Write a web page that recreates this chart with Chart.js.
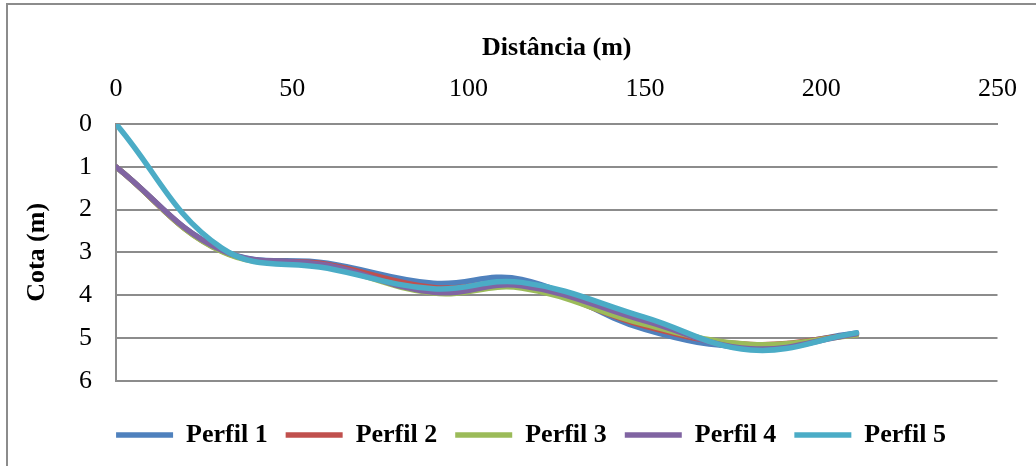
<!DOCTYPE html>
<html lang="pt">
  <head>
    <meta charset="UTF-8" />
    <title>Perfis</title>
    <script src="https://cdn.jsdelivr.net/npm/chart.js"></script>
    <style>
      html, body { margin: 0; padding: 0; background: #fff; overflow: hidden; }
      #wrap { position: relative; width: 1036px; height: 466px; }
      #frame { position: absolute; left: 6px; top: 3px; width: 1100px; height: 520px; border: 2px solid #8c8c8c; box-sizing: border-box; }
      canvas { position: absolute; left: 0; top: 0; }
    </style>
  </head>
  <body>
    <div id="wrap">
      <div id="frame"></div>
      <canvas id="perfis" width="1036" height="466"></canvas>
    </div>

    <script>
      // distancias (m) e cotas (m) de cada perfil
      const distancia = [0, 30, 60, 90, 115, 150, 180, 210];
      const perfil1 = [1.0, 2.95, 3.25, 3.72, 3.63, 4.8, 5.2, 4.88];
      const perfil2 = [1.0, 2.97, 3.28, 3.82, 3.75, 4.72, 5.15, 4.92];
      const perfil3 = [1.0, 2.98, 3.33, 3.95, 3.83, 4.68, 5.15, 4.93];
      const perfil4 = [1.0, 2.95, 3.3, 3.93, 3.78, 4.6, 5.25, 4.9];
      const perfil5 = [0.0, 2.9, 3.37, 3.85, 3.7, 4.52, 5.28, 4.88];

      const nomes = ['Perfil 1', 'Perfil 2', 'Perfil 3', 'Perfil 4', 'Perfil 5'];
      const cores = ['#4f81bd', '#c0504d', '#9bbb59', '#8064a2', '#4bacc6'];
      const series = [perfil1, perfil2, perfil3, perfil4, perfil5];

      const xTicks = [0, 50, 100, 150, 200, 250];
      const yTicks = [0, 1, 2, 3, 4, 5, 6];

      const fonte = 'Liberation Serif, Times New Roman, serif';
      const cinza = '#8c8c8c';

      const datasets = series.map((s, i) => ({
        label: nomes[i],
        data: distancia.map((d, j) => ({ x: d, y: s[j] })),
        borderColor: cores[i],
        backgroundColor: cores[i],
        borderWidth: 5.5,
        borderCapStyle: 'round',
        borderJoinStyle: 'round',
        tension: 0.4,
        pointRadius: 0,
        fill: false,
        // perfil 5 por cima
        order: series.length - i,
      }));

      // empurra a legenda um pouco para a direita
      const legendShift = {
        id: 'legendShift',
        afterLayout(chart) {
          chart.legend.left += 32;
          chart.legend.right += 32;
        },
      };

      const config = {
        type: 'line',
        data: { datasets: datasets },
        plugins: [legendShift],
        options: {
          responsive: false,
          animation: false,
          layout: { padding: { left: 0, right: 38, top: 20, bottom: 8 } },
          plugins: {
            tooltip: { enabled: false },
            legend: {
              position: 'bottom',
              title: { display: true, text: ' ', font: { size: 1 }, padding: { top: 0, bottom: 22 } },
              labels: {
                usePointStyle: true,
                pointStyle: 'line',
                pointStyleWidth: 57,
                padding: 18,
                color: '#000',
                font: { family: fonte, size: 26, weight: 'bold' },
                sort: (a, b) => a.datasetIndex - b.datasetIndex,
              },
            },
          },
          scales: {
            x: {
              type: 'linear',
              position: 'top',
              min: 0,
              max: 250,
              afterBuildTicks: (axis) => { axis.ticks = xTicks.map((v) => ({ value: v })); },
              afterFit: (axis) => { axis.height = 104; },
              grid: { display: false, drawTicks: false },
              border: { display: true, color: cinza, width: 2 },
              ticks: { color: '#000', padding: 19, font: { family: fonte, size: 26 } },
              title: {
                display: true,
                text: 'Distância (m)',
                color: '#000',
                padding: { top: 13, bottom: 4 },
                font: { family: fonte, size: 26, weight: 'bold' },
              },
            },
            y: {
              type: 'linear',
              reverse: true,
              min: 0,
              max: 6,
              afterBuildTicks: (axis) => { axis.ticks = yTicks.map((v) => ({ value: v })); },
              afterFit: (axis) => { axis.width = 116; },
              grid: { color: cinza, lineWidth: 2, drawTicks: false },
              border: { display: true, color: cinza, width: 2 },
              ticks: { color: '#000', padding: 24, font: { family: fonte, size: 26 } },
              title: {
                display: true,
                text: 'Cota (m)',
                color: '#000',
                padding: { top: 22, bottom: 0 },
                font: { family: fonte, size: 26, weight: 'bold' },
              },
            },
          },
        },
      };

      new Chart(document.getElementById('perfis'), config);
    </script>
  </body>
</html>
